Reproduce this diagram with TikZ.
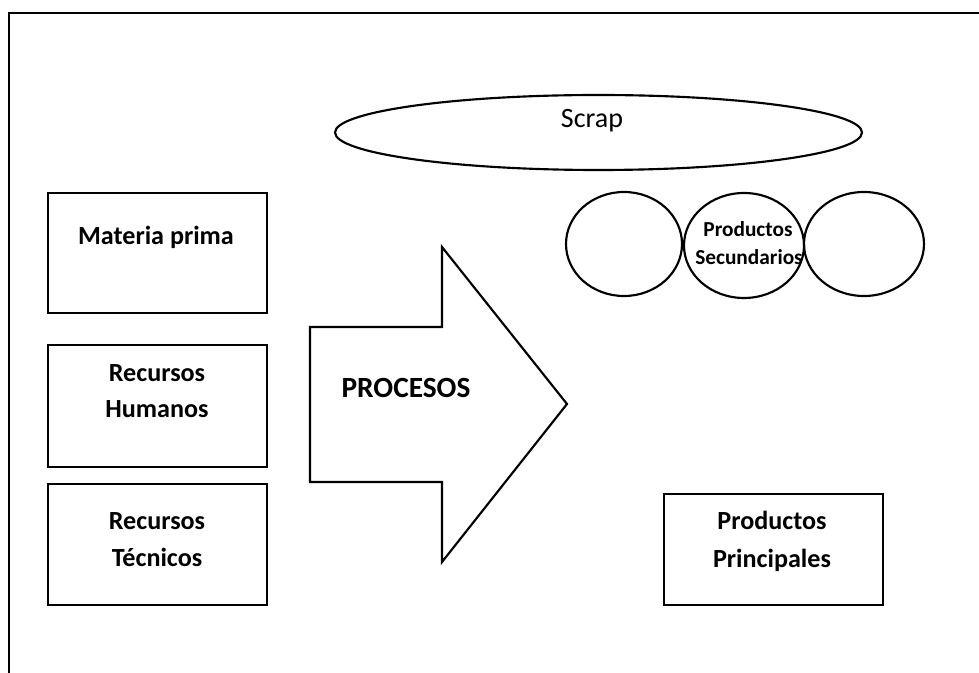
\documentclass[tikz,border=0pt]{standalone}
\usepackage{fontspec}
\setmainfont{Carlito}
\usetikzlibrary{shapes.geometric,fit}

\begin{document}
\begin{tikzpicture}[x=0.75pt,y=-0.75pt,
  box/.style={draw, line width=1.9pt, inner sep=0pt, outer sep=0pt},
  oval/.style={draw, ellipse, line width=1.6pt, inner sep=0pt, outer sep=0pt},
  lbl/.style={anchor=base, inner sep=0pt, font=\fontsize{19.6}{24}\selectfont\bfseries},
  small/.style={anchor=base, inner sep=0pt, font=\fontsize{16}{20}\selectfont\bfseries},
  frame/.style={line width=2pt}]
\useasboundingbox (0,0) rectangle (979,673);

% page frame (top and left edges)
\coordinate (fl) at (9,673);
\coordinate (fc) at (9,13);
\coordinate (fr) at (979,13);
\draw[frame] (fl) -- (fc) -- (fr);

% input boxes
\node[box, fit={(48,193) (267,313)}] (mp) {};
\node[box, fit={(48,345) (267,467)}] (rh) {};
\node[box, fit={(48,484) (267,605)}] (rt) {};
\node[lbl] (mpt)  at (156,245) {Materia prima};
\node[lbl] (rht1) at (157,382) {Recursos};
\node[lbl] (rht2) at (157,418) {Humanos};
\node[lbl] (rtt1) at (157,530) {Recursos};
\node[lbl] (rtt2) at (157,567) {Técnicos};

% process arrow
\draw[line width=1.6pt, line join=miter]
  (310,327) -- (442,327) -- (442,247) -- (567,404) -- (442,562)
  -- (442,482) -- (310,482) -- cycle;
\node[anchor=base, inner sep=0pt, font=\fontsize{22}{26}\selectfont\bfseries]
  (proc) at (406,398) {PROCESOS};

% scrap
\node[oval, minimum width=527*0.75pt, minimum height=75*0.75pt] (scrap) at (598.5,132.5) {};
\node[anchor=base, inner sep=0pt, font=\fontsize{21}{25}\selectfont] (scrapt) at (592,128) {Scrap};

% secondary products
\node[oval, minimum width=116*0.75pt, minimum height=104*0.75pt] (c1) at (624,244) {};
\node[oval, minimum width=120*0.75pt, minimum height=105*0.75pt] (c2) at (744,245.5) {};
\node[oval, minimum width=120*0.75pt, minimum height=104*0.75pt] (c3) at (864,244) {};
\node[small] (ps1) at (748,237) {Productos};
\node[small] (ps2) at (749,265) {Secundarios};

% main products
\node[box, fit={(664,494) (883,605)}] (pp) {};
\node[lbl] (ppt1) at (772,530) {Productos};
\node[lbl] (ppt2) at (772,568) {Principales};
\end{tikzpicture}
\end{document}
